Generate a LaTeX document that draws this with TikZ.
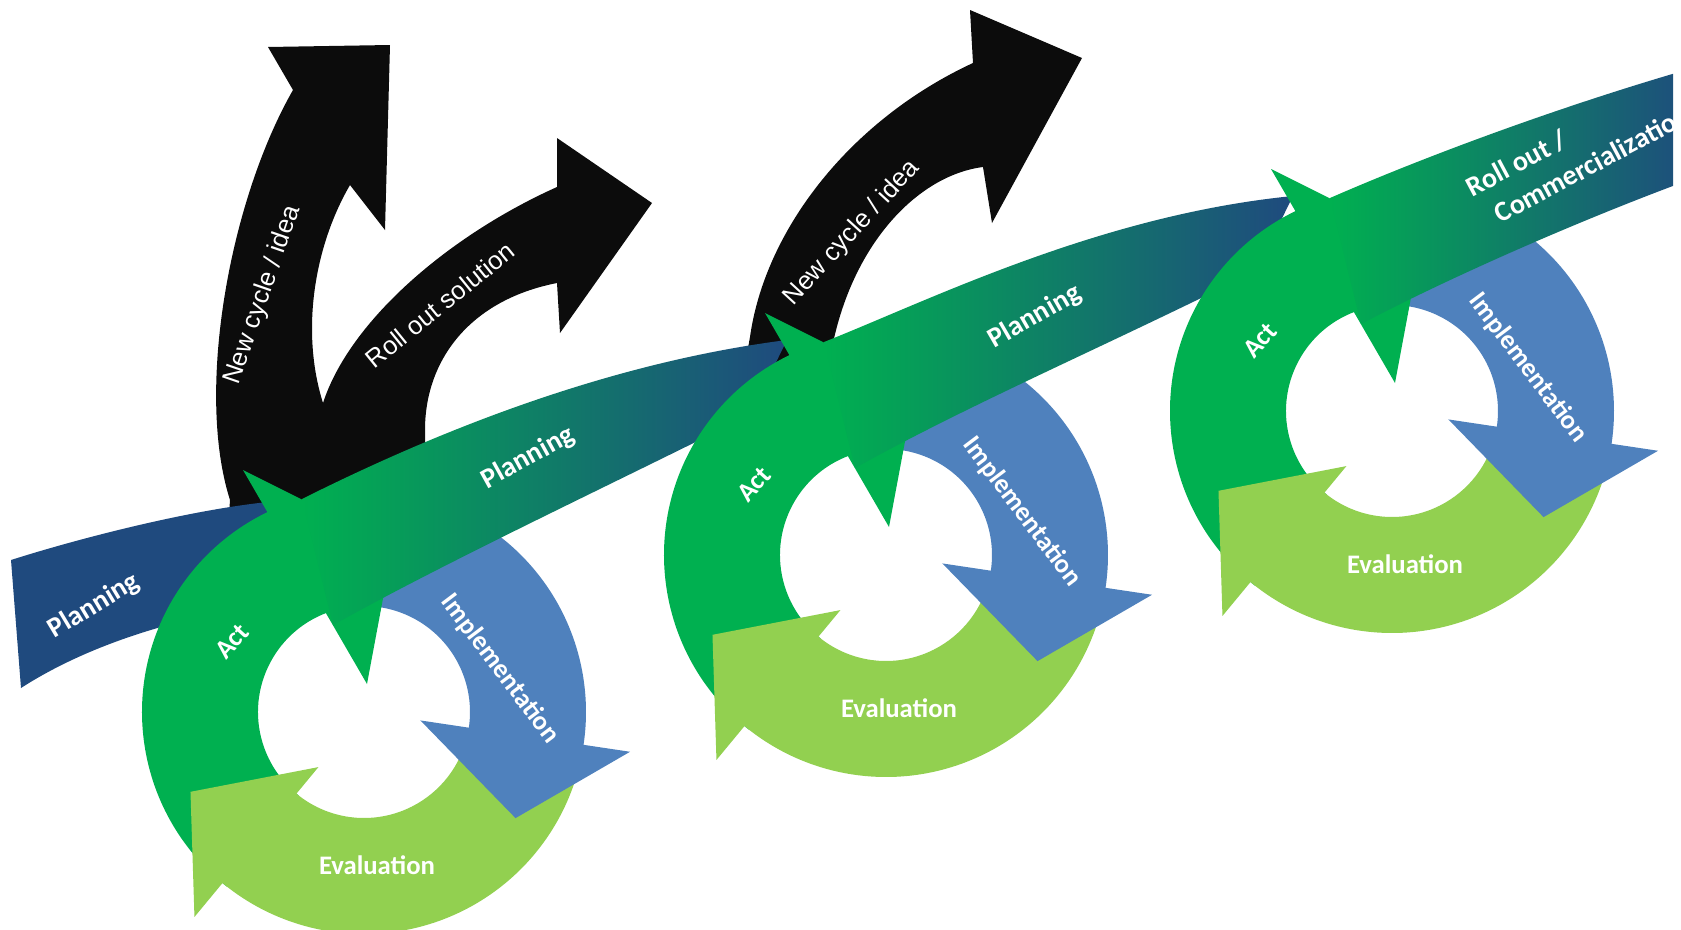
\documentclass[tikz,border=0pt]{standalone}
\usepackage{fontspec}
\newfontfamily\calibfont{Carlito}
\newfontfamily\arialfont{Liberation Sans}
\usepackage{xcolor}
\usepackage{tikz}

\definecolor{bandblue}{RGB}{31,74,126}
\definecolor{actgreen}{RGB}{0,176,80}
\definecolor{implblue}{RGB}{79,129,189}
\definecolor{evalgreen}{RGB}{146,208,80}
\definecolor{arrowblack}{RGB}{12,12,12}

\tikzset{
  celltext/.style={text=white,inner sep=0pt,font={\calibfont\bfseries\fontsize{7.6}{9}\selectfont}},
  bandtext/.style={text=white,inner sep=0pt,font={\calibfont\bfseries\fontsize{8}{10.3}\selectfont}},
  blacktext/.style={text=white,inner sep=0pt,font={\arialfont\fontsize{7.3}{9}\selectfont}},
  bandshade/.style={left color=actgreen,middle color=actgreen!35!bandblue,right color=bandblue},
  pics/pdca/.style={code={
    \fill[actgreen] (128:222) arc[start angle=128,end angle=250,radius=222] -- (250:106) arc[start angle=250,end angle=128,radius=106] -- cycle;
    \fill[evalgreen] (18.5:222) arc[start angle=18.5,end angle=129.6,radius=222] -- (129.6:266) -- (155.3:191) -- (129.6:71.5) -- (129.6:106) arc[start angle=129.6,end angle=18.5,radius=106] -- cycle;
    \fill[implblue] (-82:222) arc[start angle=-82,end angle=8.5,radius=222] -- (8.5:269) -- (35:185) -- (8.5:57) -- (8.5:106) arc[start angle=8.5,end angle=-82,radius=106] -- cycle;
    \fill[actgreen] (-121,-242) -- (29,-167) -- (3,-28) -- cycle;
    \node[celltext,rotate=48] (-act) at (-132,-71) {Act};
    \node[celltext,rotate=-53] (-impl) at (136,-43) {Implementation};
    \node[celltext] (-eval) at (13,153) {Evaluation};
  }}
}

\begin{document}
\begin{tikzpicture}[x=0.01cm,y=-0.01cm]
  \useasboundingbox (0,0) rectangle (1681,930);
  % black arrows, behind the band
  \fill[arrowblack] (228,530) -- (230,500) .. controls (195,390) and (230,200) .. (293,90) -- (268,47) -- (390,45) -- (385,230) -- (350,185) .. controls (315,245) and (300,330) .. (323,403) .. controls (350,320) and (450,235) .. (557,187) -- (557,138) -- (652,203) -- (560,333) -- (557,283) .. controls (470,300) and (425,360) .. (425,430) -- (425,530) -- cycle;
  \fill[arrowblack] (745,365) -- (750,337) .. controls (765,230) and (850,120) .. (973,63) -- (970,10) -- (1082,58) -- (992,223) -- (983,167) .. controls (920,175) and (855,240) .. (833,343) -- (835,365) -- cycle;
  \node[blacktext,rotate=71] (newleft) at (263,295) {New cycle / idea};
  \node[blacktext,rotate=39] (rollleft) at (440,305) {Roll out solution};
  \node[blacktext,rotate=47.5] (newmid) at (852,233) {New cycle / idea};

  % band and cycles
  \fill[bandblue] (11,560) .. controls (80,538) and (190,510) .. (268,502) -- (300,600) .. controls (170,615) and (80,650) .. (21,688) -- cycle;
  \node[bandtext,rotate=31] (plan0) at (94,606) {Planning};

  \pic (cyc1) at (364,712) {pdca};
  \shade[bandshade] (302,499) .. controls (410,445) and (590,365) .. (787,340) -- (750,415) .. controls (600,490) and (450,560) .. (333,625) -- cycle;
  \node[bandtext,rotate=29] (plan1) at (528,458) {Planning};

  \pic (cyc2) at (886,555) {pdca};
  \shade[bandshade] (824,342) .. controls (930,300) and (1100,215) .. (1293,196) -- (1256,271) .. controls (1106,346) and (972,403) .. (855,468) -- cycle;
  \node[bandtext,rotate=30] (plan2) at (1035,317) {Planning};

  \pic (cyc3) at (1392,411) {pdca};
  \begin{scope}
    \clip (0,0) rectangle (1673,930);
    \shade[bandshade] (1330,198) .. controls (1440,150) and (1580,100) .. (1700,66) -- (1700,176) .. controls (1600,212) and (1460,272) .. (1361,324) -- cycle;
    \node[bandtext,rotate=28,anchor=west,align=left] (rollout) at (1476,205) {Roll out /\\\hspace*{3.6pt}Commercialization};
  \end{scope}
\end{tikzpicture}
\end{document}
